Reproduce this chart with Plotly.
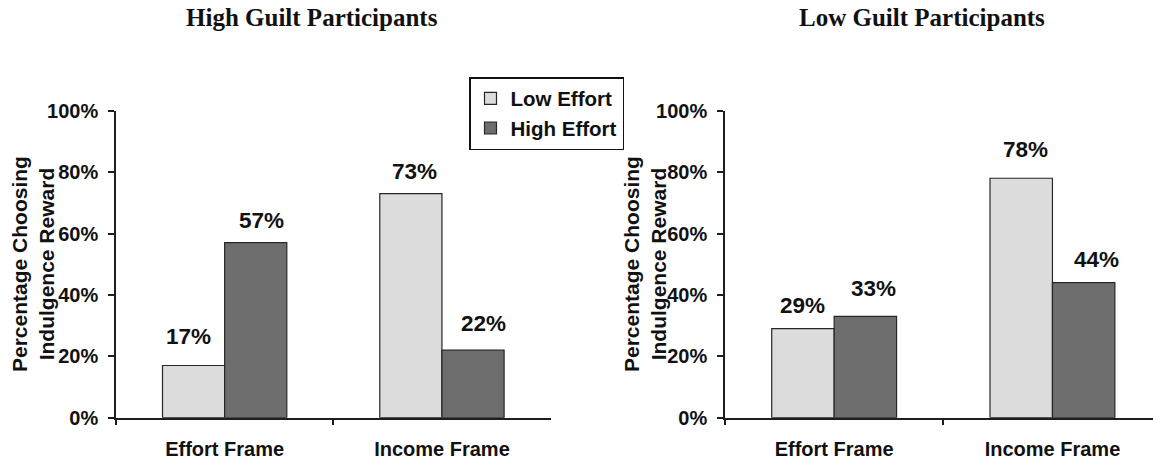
import plotly.graph_objects as go

# ---- data -------------------------------------------------------------
categories = ["Effort Frame", "Income Frame"]
series_names = ["Low Effort", "High Effort"]

high_guilt_low_effort = [0.17, 0.73]
high_guilt_high_effort = [0.57, 0.22]
low_guilt_low_effort = [0.29, 0.78]
low_guilt_high_effort = [0.33, 0.44]

y_ticks = [0.0, 0.2, 0.4, 0.6, 0.8, 1.0]
panel_titles = ["High Guilt Participants", "Low Guilt Participants"]
y_title = "Percentage Choosing<br>Indulgence Reward"

# ---- styling ----------------------------------------------------------
W, H = 1153, 459
LIGHT = "#dcdcdc"
DARK = "#6e6e6e"
EDGE = "#262626"
AXIS = "#1e1e1e"
SANS = "Liberation Sans"
SERIF = "Liberation Serif"
BARGAP = 0.428

# label offsets (px) above each bar top, per panel / series / category
label_dy = {("x", 0): [29, 22], ("x", 1): [22, 27],
            ("x2", 0): [23, 29], ("x2", 1): [28, 23]}
label_dx = {("x", 0): [-5, 4], ("x", 1): [6, 10],
            ("x2", 0): [0, 4], ("x2", 1): [8, 13]}


def fx(px):
    return px / W


def fy(px):
    return 1 - px / H


fig = go.Figure()

panels = [
    ("x", "y", [high_guilt_low_effort, high_guilt_high_effort], True),
    ("x2", "y2", [low_guilt_low_effort, low_guilt_high_effort], False),
]
colors = [LIGHT, DARK]

annotations = []
for xa, ya, series, show_leg in panels:
    for s, (name, vals) in enumerate(zip(series_names, series)):
        fig.add_trace(go.Bar(
            x=categories, y=vals, name=name,
            xaxis=xa, yaxis=ya,
            marker=dict(color=colors[s], line=dict(color=EDGE, width=1.2)),
            showlegend=show_leg, legendgroup=name,
        ))
        half = (1 - BARGAP) / 4
        for i, v in enumerate(vals):
            annotations.append(dict(
                x=i + (-half if s == 0 else half), y=v,
                xref=xa, yref=ya,
                text=f"{v:.0%}", showarrow=False,
                xanchor="center", yanchor="middle",
                xshift=label_dx[(xa, s)][i], yshift=label_dy[(xa, s)][i],
                font=dict(family=SANS, size=22.5, color="#111", weight=700),
            ))

# panel titles
for title, cx in zip(panel_titles, [312, 922]):
    annotations.append(dict(
        x=fx(cx), y=fy(18), xref="paper", yref="paper",
        text=title, showarrow=False, xanchor="center", yanchor="middle",
        font=dict(family=SERIF, size=25, color="#111", weight=700),
    ))

# y-axis titles
for cx in [33, 645]:
    annotations.append(dict(
        x=fx(cx), y=fy(264), xref="paper", yref="paper",
        text=y_title, showarrow=False, textangle=-90,
        xanchor="center", yanchor="middle",
        font=dict(family=SANS, size=21, color="#111", weight=700),
    ))

tickfont = dict(family=SANS, size=20, color="#111", weight=700)

xcommon = dict(
    type="category", showline=True, linecolor=AXIS, linewidth=1.5,
    ticks="outside", tickson="boundaries", ticklen=6, tickwidth=1.5,
    tickcolor=AXIS, tickfont=tickfont, showgrid=False, zeroline=False,
    ticklabelstandoff=13, automargin=False,
)
ycommon = dict(
    range=[0, 1], tickvals=y_ticks, tickformat=".0%",
    showline=True, linecolor=AXIS, linewidth=1.5,
    ticks="outside", ticklen=6, tickwidth=1.5, tickcolor=AXIS,
    tickfont=tickfont, showgrid=False, zeroline=False,
    ticklabelstandoff=6, automargin=False,
)

y_dom = [fy(417.7), fy(110.7)]
cat_w_right = 218.3
right_end = -0.5 + (W - 725) / cat_w_right

fig.update_layout(
    width=W, height=H,
    margin=dict(l=0, r=0, t=0, b=0, pad=0, autoexpand=False),
    paper_bgcolor="white", plot_bgcolor="white",
    barmode="group", bargap=BARGAP, bargroupgap=0,
    xaxis=dict(domain=[fx(116), fx(550.6)], range=[-0.5, 1.5], anchor="y", **xcommon),
    yaxis=dict(domain=y_dom, anchor="x", **ycommon),
    xaxis2=dict(domain=[fx(725), 1.0], range=[-0.5, right_end], anchor="y2", **xcommon),
    yaxis2=dict(domain=y_dom, anchor="x2", **ycommon),
    legend=dict(
        x=fx(469), y=fy(77), xanchor="left", yanchor="top",
        bgcolor="white", bordercolor="#111", borderwidth=1.5,
        font=dict(family=SANS, size=20.5, color="#111", weight=700),
        traceorder="normal", tracegroupgap=4,
    ),
    annotations=annotations,
    showlegend=True,
)

fig.write_html("out.html")
